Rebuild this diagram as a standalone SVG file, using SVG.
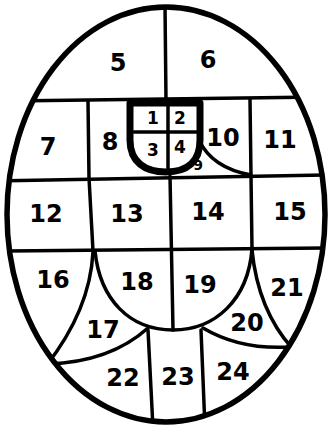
<svg xmlns="http://www.w3.org/2000/svg" width="331" height="430" viewBox="0 0 331 430">
<style>
.ln{fill:none;stroke:#000;stroke-width:3.5;stroke-linecap:round;stroke-linejoin:round}
.lb{font-family:"DejaVu Sans",sans-serif;font-weight:bold;font-size:24px;text-anchor:middle;dominant-baseline:central;fill:#000}
.sm{font-size:17px}
.xs{font-size:14px}
</style>
<defs>
<clipPath id="oc"><ellipse cx="166" cy="214.5" rx="159" ry="207.5"/></clipPath>
</defs>
<rect width="331" height="430" fill="#fff"/>
<g id="connectors" clip-path="url(#oc)">
<path class="ln" d="M165 5 L166 100"/>
<path class="ln" d="M10 101 L320 97"/>
<path class="ln" d="M88 101 L89 178 L93 251"/>
<path class="ln" d="M250 99 L251 176 L252 249"/>
<path class="ln" d="M0 181 L331 175"/>
<path class="ln" d="M170 176 L173 330"/>
<path class="ln" d="M0 251 L331 248"/>
<path class="ln" d="M95 251 C100 300 130 330 173 330 C215 330 248 300 252 249"/>
<path class="ln" d="M93 252 Q90 310 46 366"/>
<path class="ln" d="M48 364 Q110 362 148 328"/>
<path class="ln" d="M252 250 Q258 310 292 348"/>
<path class="ln" d="M290 347 Q240 350 203 328"/>
<path class="ln" d="M148 330 L153 428"/>
<path class="ln" d="M201 330 L205 428"/>
<path class="ln" d="M199 140 Q212 168 251 175"/>
</g>
<g id="shield">
<path d="M130 103 L130 140 C130 162 145 172 166 172 C187 172 200 162 200 140 L200 103 Z" fill="none" stroke="#000" stroke-width="7" stroke-linejoin="round"/>
<path class="ln" d="M168 103 L168 172"/>
<path class="ln" d="M134 132 L198 132"/>
</g>
<ellipse id="outline" cx="166" cy="214.5" rx="159" ry="207.5" fill="none" stroke="#000" stroke-width="5.5"/>
<g id="labels">
<text class="lb" x="118" y="63">5</text>
<text class="lb" x="208" y="60">6</text>
<text class="lb sm" x="153" y="118">1</text>
<text class="lb sm" x="180" y="118">2</text>
<text class="lb sm" x="153" y="150">3</text>
<text class="lb sm" x="180" y="147">4</text>
<text class="lb xs" x="198" y="165">9</text>
<text class="lb" x="48" y="147">7</text>
<text class="lb" x="110" y="142">8</text>
<text class="lb" x="223" y="138">10</text>
<text class="lb" x="280" y="140">11</text>
<text class="lb" x="46" y="214">12</text>
<text class="lb" x="127" y="214">13</text>
<text class="lb" x="208" y="212">14</text>
<text class="lb" x="290" y="212">15</text>
<text class="lb" x="53" y="280">16</text>
<text class="lb" x="137" y="282">18</text>
<text class="lb" x="200" y="285">19</text>
<text class="lb" x="287" y="288">21</text>
<text class="lb" x="103" y="330">17</text>
<text class="lb" x="247" y="323">20</text>
<text class="lb" x="123" y="378">22</text>
<text class="lb" x="178" y="377">23</text>
<text class="lb" x="233" y="372">24</text>
</g>
</svg>
